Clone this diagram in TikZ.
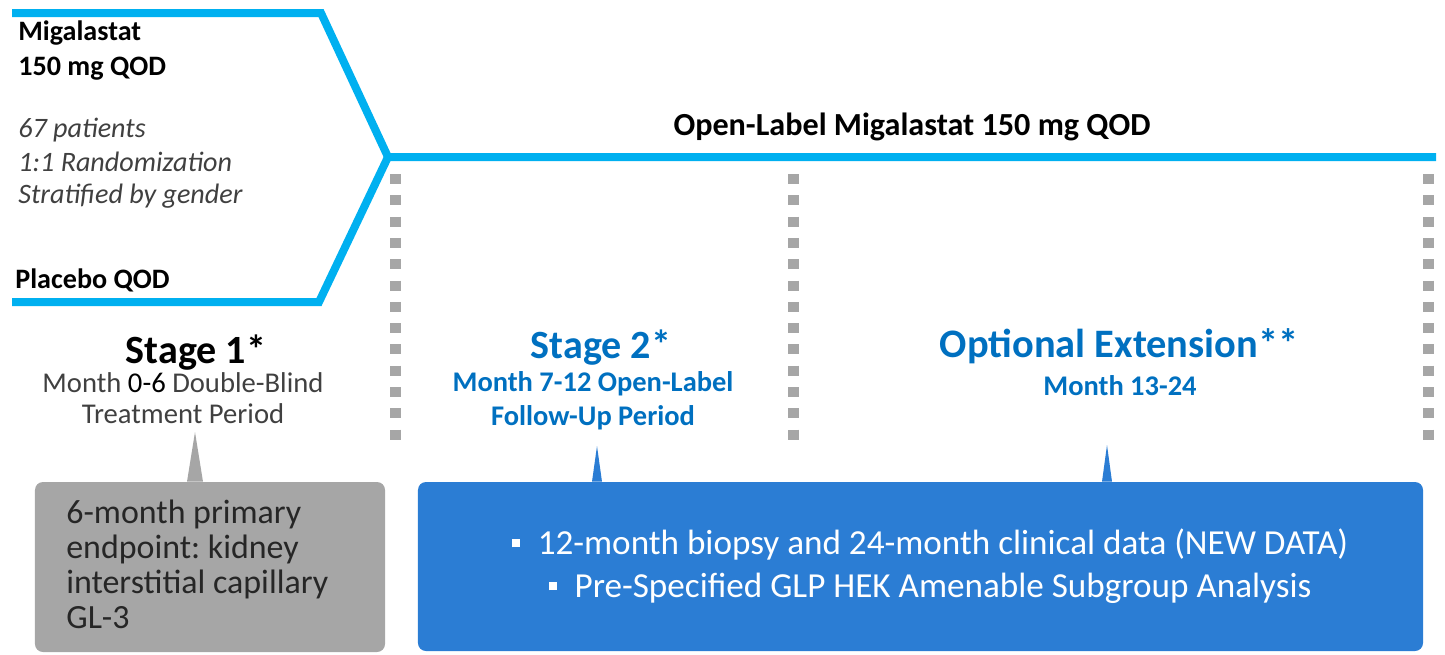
\documentclass[tikz,border=0pt]{standalone}
\usepackage{fontspec}
\setmainfont{Carlito}
\usepackage{xcolor}
\definecolor{mgcyan}{RGB}{0,176,240}
\definecolor{mgblue}{RGB}{0,112,192}
\definecolor{mgbox}{RGB}{43,125,212}
\definecolor{mggray}{RGB}{166,166,166}
\definecolor{mgdark}{RGB}{64,64,64}
\usetikzlibrary{positioning,calc}
\newcommand{\mgbullet}{\raisebox{0.2em}{\rule{0.24em}{0.24em}}\hspace{0.5em}}

\begin{document}
\frenchspacing
\begin{tikzpicture}[x=0.2mm, y=-0.2mm,
  armline/.style={draw=mgcyan, line width=1.6mm, line join=miter},
  dotline/.style={draw=mggray, line width=2.2mm, dash pattern=on 2mm off 2.26mm},
  armlabel/.style={anchor=base west, inner sep=0pt, font=\fontsize{16}{19}\selectfont\bfseries},
  infolabel/.style={anchor=base west, inner sep=0pt, font=\fontsize{16}{19}\selectfont\itshape, text=mgdark},
  stagehead/.style={anchor=base, inner sep=0pt, font=\fontsize{22.8}{26}\selectfont\bfseries},
  stagesub/.style={anchor=base, inner sep=0pt, font=\fontsize{16.2}{19}\selectfont\bfseries, text=mgblue},
  stagenote/.style={anchor=base, inner sep=0pt, font=\fontsize{16.3}{19}\selectfont, text=mgdark}]
  \useasboundingbox (0,0) rectangle (1445,654);

  %--- Treatment arms ---
  \coordinate (merge) at (388,157);
  \coordinate (armtop) at (12,13);
  \coordinate (armbot) at (12,302);
  \coordinate (lineend) at (1436,157);
  \draw[armline] (armtop) -- (321,13) -- (merge) -- (lineend);
  \draw[armline] (armbot) -- (319,302) -- (merge);

  \node[armlabel] (drug) at (18,40) {Migalastat};
  \node[armlabel] (dose) at (18,75) {150 mg QOD};
  \node[infolabel] (npat) at (18,137) {67 patients};
  \node[infolabel] (rand) at (18,171) {1:1 Randomization};
  \node[infolabel] (strat) at (18,203) {Stratified by gender};
  \node[armlabel] (placebo) at (15,288) {Placebo QOD};

  \node[anchor=base, inner sep=0pt, font=\fontsize{18.3}{22}\selectfont\bfseries] (openlabel) at (912,135) {Open-Label Migalastat 150 mg QOD};

  %--- Period boundaries ---
  \foreach \xx/\nm in {395/bndA, 793/bndB, 1428/bndC} {
    \coordinate (\nm top) at (\xx,174);
    \coordinate (\nm bot) at (\xx,441);
    \draw[dotline] (\nm top) -- (\nm bot);
  }

  %--- Stage labels ---
  \node[stagehead] (stageone) at (196,363) {Stage 1*};
  \node[stagenote] (stageonea) at (183,392) {Month \textcolor{black}{0-6} Double-Blind};
  \node[stagenote] (stageoneb) at (183,423) {Treatment Period};

  \node[stagehead, text=mgblue] (stagetwo) at (601,358) {Stage 2*};
  \node[stagesub] (stagetwoa) at (593,391) {Month 7-12 Open-Label};
  \node[stagesub] (stagetwob) at (593,425) {Follow-Up Period};

  \node[stagehead, font=\fontsize{23}{26}\selectfont\bfseries, text=mgblue] (optext) at (1119,357) {Optional Extension**};
  \node[stagesub] (optexta) at (1120,395) {Month 13-24};

  %--- Callout boxes ---
  \node[fill=mggray, rounded corners=1.6mm, minimum width=70mm, minimum height=34mm] (endpoint) at (210,567) {};
  % base anchor sits on the last line
  \node[anchor=base west, inner sep=0pt, align=left, font=\fontsize{19.3}{19.75}\selectfont, text=black!85] (endpointtext) at (66,628) {6-month primary\\endpoint: kidney\\interstitial capillary\\GL-3};

  \node[fill=mgbox, rounded corners=1.6mm, minimum width=201mm, minimum height=33.8mm] (results) at (920.5,566.5) {};
  \node[align=center, inner sep=0pt, font=\fontsize{20}{24.5}\selectfont, text=white] (resultstext) at (930,566) {\mgbullet 12-month biopsy and 24-month clinical data (NEW DATA)\\\mgbullet Pre-Specified GLP HEK Amenable Subgroup Analysis};

  % pointers
  \coordinate (tipone) at (195,432);
  \coordinate (tiptwo) at (597,446);
  \coordinate (tipthree) at (1107,445);
  \fill[mggray] (tipone) -- ([xshift=-1.6mm]tipone |- endpoint.north) -- ([xshift=1.6mm]tipone |- endpoint.north) -- cycle;
  \fill[mgbox] (tiptwo) -- ([xshift=-1mm]tiptwo |- results.north) -- ([xshift=1mm]tiptwo |- results.north) -- cycle;
  \fill[mgbox] (tipthree) -- ([xshift=-1mm]tipthree |- results.north) -- ([xshift=1mm]tipthree |- results.north) -- cycle;
\end{tikzpicture}
\end{document}
